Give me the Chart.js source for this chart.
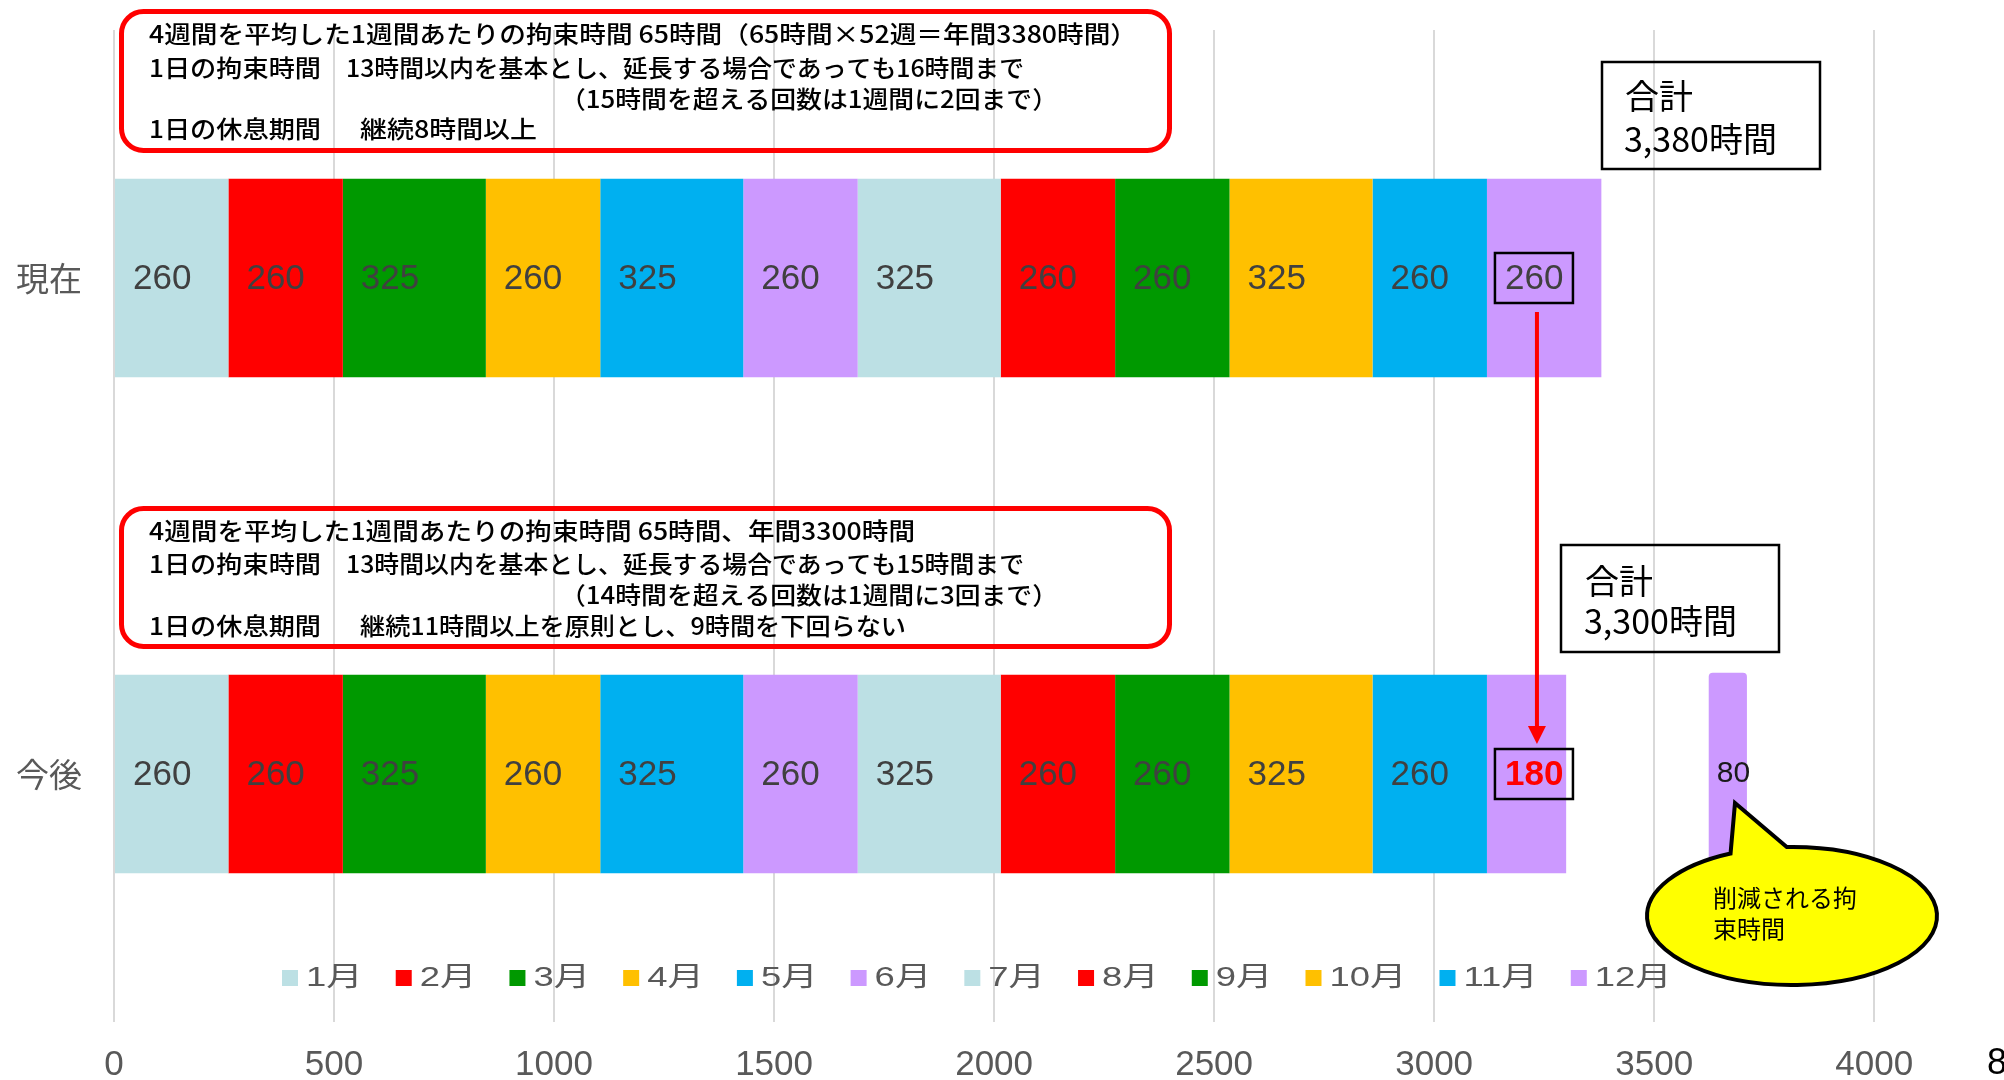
<!DOCTYPE html>
<html>
<head>
<meta charset="utf-8">
<script src="https://cdn.jsdelivr.net/npm/chart.js@4/dist/chart.umd.min.js"></script>
<style>
html,body{margin:0;padding:0;background:#fff;}
#wrap{width:2004px;height:1080px;position:relative;}
</style>
</head>
<body>
<div id="wrap"><canvas id="c" width="2004" height="1080"></canvas></div>
<script>
// ---- data ----
const categories = ['現在', '今後'];
const months = ['1月','2月','3月','4月','5月','6月','7月','8月','9月','10月','11月','12月'];
const monthColors = ['#BCE0E4','#FF0000','#009900','#FFC000','#00B0F0','#CC99FF',
                     '#BCE0E4','#FF0000','#009900','#FFC000','#00B0F0','#CC99FF'];
const currentHours = [260,260,325,260,325,260,325,260,260,325,260,260];
const futureHours  = [260,260,325,260,325,260,325,260,260,325,260,180];
const reducedHours = 80;
const reducedStart = 3624;
const xTickValues = [0,500,1000,1500,2000,2500,3000,3500,4000];
const xMax = 4295;
const totalTitle = '合計';
const totalLabels = ['3,380時間', '3,300時間'];
const noteCurrent = [
  '4週間を平均した1週間あたりの拘束時間 65時間（65時間×52週＝年間3380時間）',
  '1日の拘束時間', '13時間以内を基本とし、延長する場合であっても16時間まで',
  '（15時間を超える回数は1週間に2回まで）',
  '1日の休息期間', '継続8時間以上'
];
const noteFuture = [
  '4週間を平均した1週間あたりの拘束時間 65時間、年間3300時間',
  '1日の拘束時間', '13時間以内を基本とし、延長する場合であっても15時間まで',
  '（14時間を超える回数は1週間に3回まで）',
  '1日の休息期間', '継続11時間以上を原則とし、9時間を下回らない'
];
const bubbleText = ['削減される拘', '束時間'];

const LAT = "'Liberation Sans', Arial, 'Noto Sans CJK JP', sans-serif";
const CJK = "'Noto Sans CJK JP', 'Noto Sans', sans-serif";

const datasets = months.map((m, i) => ({
  label: m,
  data: [currentHours[i], futureHours[i]],
  backgroundColor: monthColors[i],
  borderWidth: 0,
  barPercentage: 1,
  categoryPercentage: 0.4
}));

function stretched(ctx, text, x, y, sx) {
  ctx.save();
  ctx.translate(x, y);
  ctx.scale(sx, 1);
  ctx.fillText(text, 0, 0);
  ctx.restore();
}
function fitText(ctx, text, x0, x1, y) {
  const sx = (x1 - x0) / ctx.measureText(text).width;
  stretched(ctx, text, x0, y, sx);
}

const labelsPlugin = {
  id: 'segLabels',
  afterDatasetsDraw(chart) {
    const ctx = chart.ctx;
    ctx.save();
    ctx.textBaseline = 'middle';
    ctx.textAlign = 'left';
    chart.data.datasets.forEach((ds, i) => {
      const meta = chart.getDatasetMeta(i);
      meta.data.forEach((el, j) => {
        const left = Math.min(el.x, el.base);
        const tx = left + 18;
        const special = (i === chart.data.datasets.length - 1);
        if (special && j === 1) {
          ctx.font = 'bold 35px ' + LAT;
          ctx.fillStyle = '#FF0000';
        } else {
          ctx.font = '35px ' + LAT;
          ctx.fillStyle = '#404040';
        }
        ctx.fillText(String(ds.data[j]), tx, el.y + 1);
        if (special) {
          ctx.strokeStyle = '#000';
          ctx.lineWidth = 2.5;
          ctx.strokeRect(tx - 10, el.y - 25, 78, 50);
        }
      });
    });
    ctx.restore();
  }
};

const annotPlugin = {
  id: 'annot',
  afterDraw(chart) {
    const ctx = chart.ctx;
    const xs = chart.scales.x;
    const n = chart.data.datasets.length;
    const lastMeta = chart.getDatasetMeta(n - 1);
    const e0 = lastMeta.data[0], e1 = lastMeta.data[1];

    // legend (custom, inside plot area)
    ctx.save();
    ctx.textBaseline = 'middle';
    ctx.font = '27px ' + LAT;
    let lx = 282;
    const ly = 978, sq = 16, sxL = 1.35;
    chart.data.datasets.forEach(ds => {
      ctx.fillStyle = ds.backgroundColor;
      ctx.fillRect(lx, ly - sq / 2, sq, sq);
      ctx.fillStyle = '#595959';
      stretched(ctx, ds.label, lx + sq + 8, ly + 1, sxL);
      lx += sq + 8 + ctx.measureText(ds.label).width * sxL + 33;
    });
    ctx.restore();

    // red rounded note boxes
    ctx.save();
    ctx.strokeStyle = '#FF0000';
    ctx.lineWidth = 5;
    [[9, 153], [506, 649]].forEach(([t, b]) => {
      ctx.beginPath();
      ctx.roundRect(121.5, t + 2.5, 1048, b - t - 5, 22);
      ctx.stroke();
    });
    ctx.font = '500 24px ' + CJK;
    ctx.fillStyle = '#000';
    ctx.textBaseline = 'middle';
    const drawNote = (t, ys, l1End, l4End) => {
      fitText(ctx, t[0], 149, l1End, ys[0]);
      fitText(ctx, t[1], 149, 321, ys[1]);
      fitText(ctx, t[2], 346, 1024, ys[1]);
      fitText(ctx, t[3], 560, 1058, ys[2]);
      fitText(ctx, t[4], 149, 321, ys[3]);
      fitText(ctx, t[5], 360, l4End, ys[3]);
    };
    drawNote(noteCurrent, [34, 68, 99, 129], 1137, 537);
    drawNote(noteFuture, [531, 564, 595, 626], 915, 906);
    ctx.restore();

    // total boxes
    ctx.save();
    ctx.strokeStyle = '#000';
    ctx.lineWidth = 2.5;
    ctx.fillStyle = '#000';
    ctx.textBaseline = 'middle';
    ctx.font = '34px ' + CJK;
    ctx.strokeRect(1602, 62, 218, 107);
    ctx.fillText(totalTitle, 1625, 96);
    ctx.fillText(totalLabels[0], 1624, 139);
    ctx.strokeRect(1561, 545, 218, 107);
    ctx.fillText(totalTitle, 1585, 581);
    ctx.fillText(totalLabels[1], 1584, 621);
    ctx.restore();

    // arrow from current Dec label to future Dec label
    const ax = Math.min(e0.x, e0.base) + 50;
    const y0 = e0.y + 34, yTip = e1.y - 30;
    ctx.save();
    ctx.strokeStyle = '#FF0000';
    ctx.fillStyle = '#FF0000';
    ctx.lineWidth = 4;
    ctx.beginPath();
    ctx.moveTo(ax, y0);
    ctx.lineTo(ax, yTip - 16);
    ctx.stroke();
    ctx.beginPath();
    ctx.moveTo(ax - 9, yTip - 18);
    ctx.lineTo(ax + 9, yTip - 18);
    ctx.lineTo(ax, yTip);
    ctx.closePath();
    ctx.fill();
    ctx.restore();

    // reduced-hours bar (80)
    const rx0 = xs.getPixelForValue(reducedStart);
    const rx1 = xs.getPixelForValue(reducedStart + reducedHours);
    const top = e1.y - e1.height / 2, bot = e1.y + e1.height / 2;
    ctx.save();
    ctx.fillStyle = monthColors[11];
    ctx.beginPath();
    ctx.roundRect(rx0, top - 2, rx1 - rx0 + 3, bot - top + 2, [4, 4, 0, 0]);
    ctx.fill();
    ctx.fillStyle = '#1a1a1a';
    ctx.font = '30px ' + LAT;
    ctx.textBaseline = 'middle';
    ctx.fillText(String(reducedHours), rx0 + 8, e1.y);
    ctx.restore();

    // speech bubble
    const cx = 1792, cy = 916, erx = 145, ery = 69;
    const a1 = Math.atan2((856 - cy) / ery, (1733 - cx) / erx);
    const a2 = Math.atan2((850 - cy) / ery, (1787 - cx) / erx);
    ctx.save();
    ctx.beginPath();
    ctx.ellipse(cx, cy, erx, ery, 0, a2, a1 + 2 * Math.PI, false);
    ctx.lineTo(1735, 803);
    ctx.closePath();
    ctx.fillStyle = '#FFFF00';
    ctx.fill();
    ctx.lineWidth = 4;
    ctx.strokeStyle = '#000';
    ctx.lineJoin = 'miter';
    ctx.stroke();
    ctx.fillStyle = '#000';
    ctx.font = '24px ' + CJK;
    ctx.textBaseline = 'middle';
    ctx.fillText(bubbleText[0], 1713, 898);
    ctx.fillText(bubbleText[1], 1713, 929);
    ctx.restore();

    // cut-off label at right edge
    ctx.save();
    ctx.fillStyle = '#000';
    ctx.font = '36px ' + LAT;
    ctx.textBaseline = 'middle';
    ctx.fillText('8', 1987, 1064);
    ctx.restore();
  }
};

new Chart(document.getElementById('c'), {
  type: 'bar',
  data: { labels: categories, datasets },
  options: {
    responsive: false,
    animation: false,
    devicePixelRatio: 1,
    indexAxis: 'y',
    layout: { padding: { top: 30, left: 0, right: 0, bottom: 0 } },
    plugins: { legend: { display: false }, tooltip: { enabled: false } },
    scales: {
      x: {
        stacked: true,
        min: 0,
        max: xMax,
        grid: { color: '#D9D9D9', lineWidth: 2, drawTicks: false },
        border: { display: false },
        ticks: {
          padding: 22,
          color: '#595959',
          font: { family: LAT, size: 35 },
          maxRotation: 0,
          autoSkip: false,
          callback: v => String(v)
        },
        afterBuildTicks(s) { s.ticks = xTickValues.map(v => ({ value: v })); },
        afterFit(s) { s.height = 58; s.paddingLeft = 0; s.paddingRight = 0; }
      },
      y: {
        stacked: true,
        grid: { display: false, drawTicks: false },
        border: { display: false },
        ticks: { padding: 32, color: '#595959', font: { family: CJK, size: 33 } },
        afterFit(s) { s.width = 114; s.paddingTop = 0; s.paddingBottom = 0; }
      }
    }
  },
  plugins: [labelsPlugin, annotPlugin]
});
</script>
</body>
</html>
